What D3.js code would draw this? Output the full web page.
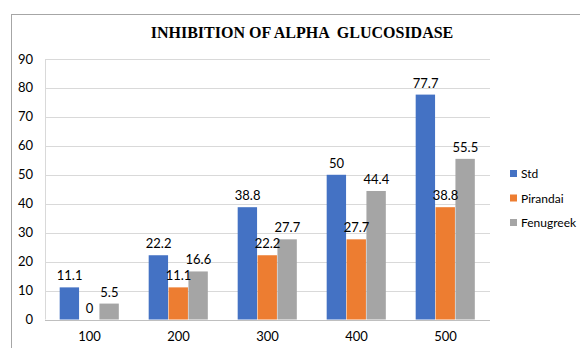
<!DOCTYPE html>
<html>
<head>
<meta charset="utf-8">
<script src="https://cdn.jsdelivr.net/npm/d3@7"></script>
<style>
  body { margin: 0; background: #fff; }
  svg { display: block; }
</style>
</head>
<body>
<div id="chart"></div>
<script>
const categories = ['100', '200', '300', '400', '500']
const seriesNames = ['Std', 'Pirandai', 'Fenugreek']
const stdValues = [11.1, 22.2, 38.8, 50, 77.7]
const pirandaiValues = [0, 11.1, 22.2, 27.7, 38.8]
const fenugreekValues = [5.5, 16.6, 27.7, 44.4, 55.5]
const yTicks = [0, 10, 20, 30, 40, 50, 60, 70, 80, 90]
const colors = ['#4472C4', '#ED7D31', '#A5A5A5']

const width = 580
const height = 348
const margin = {top: 59, right: 90, bottom: 28, left: 45}

const svg = d3.select('#chart').append('svg')
    .attr('width', width)
    .attr('height', height)

// outer chart border (left + top only visible)
svg.append('rect')
    .attr('x', 11.5).attr('y', 14.5)
    .attr('width', 600).attr('height', 400)
    .attr('fill', 'none')
    .attr('stroke', '#a6a6a6')

svg.append('text')
    .attr('x', 302).attr('y', 38)
    .attr('text-anchor', 'middle')
    .style('font-family', '"Liberation Serif", "Times New Roman", serif')
    .style('font-weight', 'bold')
    .style('font-size', '16px')
    .style('white-space', 'pre')
    .attr('fill', '#000')
    .text('INHIBITION OF ALPHA  GLUCOSIDASE')

const x = d3.scaleBand().domain(categories)
    .range([margin.left, width - margin.right])
    .paddingInner(0.33).paddingOuter(0.165)
const xs = d3.scaleBand().domain(seriesNames).range([0, x.bandwidth()])
const y = d3.scaleLinear().domain([0, 90]).range([height - margin.bottom - 0.5, margin.top])

const grid = svg.append('g')
grid.selectAll('line').data(yTicks).join('line')
    .attr('x1', margin.left).attr('x2', width - margin.right)
    .attr('y1', d => Math.round(y(d)) + 0.5).attr('y2', d => Math.round(y(d)) + 0.5)
    .attr('stroke', d => d === 0 ? '#bfbfbf' : '#d9d9d9')

svg.append('line')
    .attr('x1', margin.left + 0.5).attr('x2', margin.left + 0.5)
    .attr('y1', y(90)).attr('y2', y(0))
    .attr('stroke', '#d9d9d9')

const labelFont = 'Lato, "Open Sans", sans-serif'

svg.append('g').selectAll('text').data(yTicks).join('text')
    .attr('x', 33).attr('y', d => y(d) + 4.5)
    .attr('text-anchor', 'end')
    .style('font-family', labelFont).style('font-size', '13px')
    .attr('fill', '#000')
    .text(d => d)

svg.append('g').selectAll('text').data(categories).join('text')
    .attr('x', d => x(d) + x.bandwidth() / 2).attr('y', 341)
    .attr('text-anchor', 'middle')
    .style('font-family', labelFont).style('font-size', '13px')
    .attr('fill', '#000')
    .text(d => d)

const allSeries = [stdValues, pirandaiValues, fenugreekValues]
const rows = []
categories.forEach((c, i) => {
    seriesNames.forEach((s, j) => {
        rows.push({cat: c, series: s, value: allSeries[j][i], color: colors[j]})
    })
})

svg.append('g').selectAll('rect').data(rows).join('rect')
    .attr('x', d => x(d.cat) + xs(d.series))
    .attr('width', xs.bandwidth() - 0.5)
    .attr('y', d => y(d.value))
    .attr('height', d => y(0) - y(d.value))
    .attr('fill', d => d.color)

svg.append('g').selectAll('text').data(rows).join('text')
    .attr('x', d => x(d.cat) + xs(d.series) + xs.bandwidth() / 2)
    .attr('y', d => y(d.value) - 7)
    .attr('text-anchor', 'middle')
    .style('font-family', labelFont).style('font-size', '13px')
    .attr('fill', '#000')
    .text(d => d.value)

const legend = svg.append('g')
    .selectAll('g').data(seriesNames).join('g')
    .attr('transform', (d, i) => `translate(510, ${174 + i * 24.5})`)
legend.append('rect')
    .attr('x', 0).attr('y', -4)
    .attr('width', 7).attr('height', 7)
    .attr('fill', (d, i) => colors[i])
legend.append('text')
    .attr('x', 11).attr('y', 4)
    .style('font-family', labelFont).style('font-size', '12px')
    .attr('fill', '#000')
    .text(d => d)
</script>
</body>
</html>
